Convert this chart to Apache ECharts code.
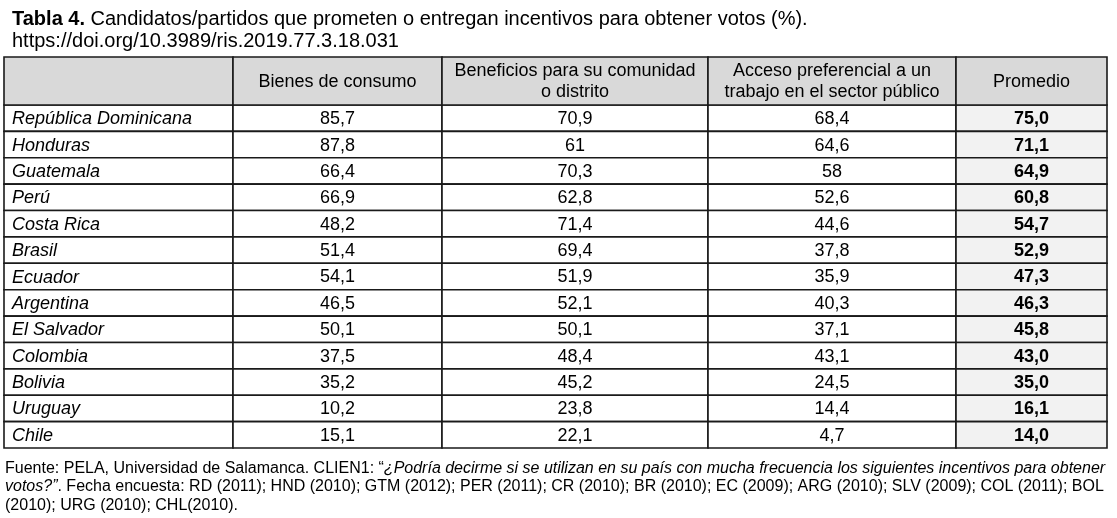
<!DOCTYPE html>
<html>
<head>
<meta charset="utf-8">
<script src="https://cdn.jsdelivr.net/npm/echarts@6/dist/echarts.min.js"></script>
<style>
  html, body { margin: 0; padding: 0; background: #fff; }
  #tabla { width: 1117px; height: 518px; }
</style>
</head>
<body>
<div id="tabla"></div>
<script>
// datos de la tabla (%)
const paises = ['República Dominicana', 'Honduras', 'Guatemala', 'Perú', 'Costa Rica', 'Brasil',
    'Ecuador', 'Argentina', 'El Salvador', 'Colombia', 'Bolivia', 'Uruguay', 'Chile'];
const bienes = [85.7, 87.8, 66.4, 66.9, 48.2, 51.4, 54.1, 46.5, 50.1, 37.5, 35.2, 10.2, 15.1];
const beneficios = [70.9, 61, 70.3, 62.8, 71.4, 69.4, 51.9, 52.1, 50.1, 48.4, 45.2, 23.8, 22.1];
const acceso = [68.4, 64.6, 58, 52.6, 44.6, 37.8, 35.9, 40.3, 37.1, 43.1, 24.5, 14.4, 4.7];
const promedio = [75.0, 71.1, 64.9, 60.8, 54.7, 52.9, 47.3, 46.3, 45.8, 43.0, 35.0, 16.1, 14.0];
const encabezados = ['', 'Bienes de consumo', 'Beneficios para su comunidad\no distrito',
    'Acceso preferencial a un\ntrabajo en el sector público', 'Promedio'];

// bordes de columna en unidades del eje x (ancho total de la tabla)
const colEdges = [0, 229, 438, 704, 952, 1103];
const FONT = '"Liberation Sans", Arial, sans-serif';
const LINE = '#1a1a1a';

const fmt = v => String(v).replace('.', ',');
const fmt1 = v => v.toFixed(1).replace('.', ',');

// celdas del cuerpo: [columna, fila, texto]
const bodyCells = [];
paises.forEach((p, i) => {
    bodyCells.push([0, i, p]);
    bodyCells.push([1, i, fmt(bienes[i])]);
    bodyCells.push([2, i, fmt(beneficios[i])]);
    bodyCells.push([3, i, fmt(acceso[i])]);
    bodyCells.push([4, i, fmt1(promedio[i])]);
});
const headCells = encabezados.map((t, c) => [c, 0, t]);

function cellRender(isHeader) {
    return function (params, api) {
        const c = api.value(0);
        const row = api.value(1);
        const text = isHeader ? headCells[params.dataIndex][2] : bodyCells[params.dataIndex][2];
        const p0 = api.coord([colEdges[c], row]);
        const p1 = api.coord([colEdges[c + 1], row]);
        const h = api.size([0, 1])[1];
        const x0 = p0[0], x1 = p1[0], y0 = p0[1] - h / 2;

        let fill = '#ffffff';
        if (isHeader) fill = '#d9d9d9';
        else if (c === 4) fill = '#f2f2f2';

        let font = '18px ' + FONT;
        if (!isHeader && c === 0) font = 'italic 18px ' + FONT;
        if (!isHeader && c === 4) font = 'bold 18px ' + FONT;

        const left = !isHeader && c === 0;
        return {
            type: 'group',
            children: [{
                type: 'rect',
                shape: { x: x0, y: y0, width: x1 - x0, height: h },
                style: { fill: fill, stroke: LINE, lineWidth: 1.6 }
            }, {
                type: 'text',
                style: {
                    text: text,
                    x: left ? x0 + 8 : (x0 + x1) / 2,
                    y: p0[1] + 1,
                    textAlign: left ? 'left' : 'center',
                    textVerticalAlign: 'middle',
                    font: font,
                    lineHeight: 21,
                    fill: '#000'
                }
            }]
        };
    };
}

const chart = echarts.init(document.getElementById('tabla'));
chart.setOption({
    animation: false,
    title: [{
        left: 7, top: 3,
        text: '{b|Tabla 4.} Candidatos/partidos que prometen o entregan incentivos para obtener votos (%).\nhttps://doi.org/10.3989/ris.2019.77.3.18.031',
        textStyle: {
            fontFamily: FONT, fontSize: 20, fontWeight: 'normal', color: '#000', lineHeight: 22,
            rich: { b: { fontFamily: FONT, fontSize: 20, fontWeight: 'bold', color: '#000', lineHeight: 22 } }
        }
    }, {
        left: 0, top: 454,
        text: 'Fuente: PELA, Universidad de Salamanca. CLIEN1: “{i|¿Podría decirme si se utilizan en su país con mucha frecuencia los siguientes incentivos para obtener}\n{i|votos?”}. Fecha encuesta: RD (2011); HND (2010); GTM (2012); PER (2011); CR (2010); BR (2010); EC (2009); ARG (2010); SLV (2009); COL (2011); BOL\n(2010); URG (2010); CHL(2010).',
        textStyle: {
            fontFamily: FONT, fontSize: 16, fontWeight: 'normal', color: '#000', lineHeight: 18.5,
            rich: { i: { fontFamily: FONT, fontSize: 16, fontStyle: 'italic', color: '#000', lineHeight: 18.5 } }
        }
    }],
    grid: [
        { left: 4, width: 1103, top: 105, height: 343 },
        { left: 4, width: 1103, top: 57, height: 48 }
    ],
    xAxis: [
        { type: 'value', gridIndex: 0, min: 0, max: colEdges[colEdges.length - 1], show: false },
        { type: 'value', gridIndex: 1, min: 0, max: colEdges[colEdges.length - 1], show: false }
    ],
    yAxis: [
        { type: 'category', gridIndex: 0, data: paises, inverse: true, show: false },
        { type: 'category', gridIndex: 1, data: ['encabezado'], show: false }
    ],
    series: [{
        type: 'custom',
        xAxisIndex: 0, yAxisIndex: 0,
        renderItem: cellRender(false),
        encode: { x: 0, y: 1 },
        data: bodyCells.map(d => [d[0], d[1]]),
        silent: true
    }, {
        type: 'custom',
        xAxisIndex: 1, yAxisIndex: 1,
        renderItem: cellRender(true),
        encode: { x: 0, y: 1 },
        data: headCells.map(d => [d[0], d[1]]),
        silent: true
    }]
});
</script>
</body>
</html>
